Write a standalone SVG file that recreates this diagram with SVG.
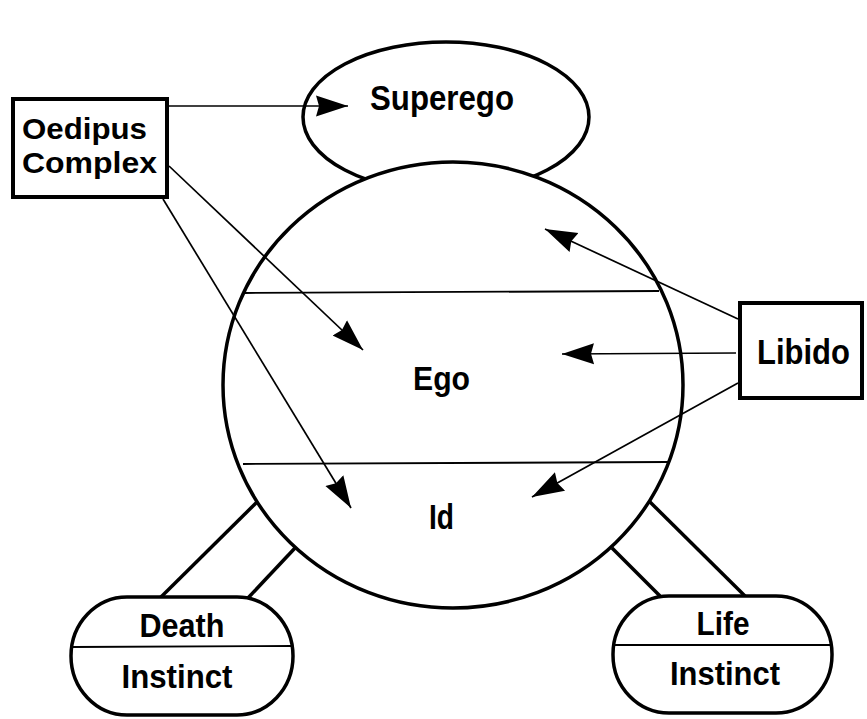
<svg xmlns="http://www.w3.org/2000/svg" width="867" height="719" viewBox="0 0 867 719">
<style>
.shape{fill:#fff;stroke:#000;stroke-width:3.5}
.box{fill:#fff;stroke:#000;stroke-width:4}
.line{stroke:#000;stroke-width:1.8;fill:none}
.leg{stroke:#000;stroke-width:3.5;fill:none}
.conn{stroke:#000;stroke-width:1.7;fill:none;marker-end:url(#ah)}
text{font-family:"Liberation Sans",Arial,Helvetica,sans-serif;font-weight:bold;fill:#000}
</style>
<defs>
<marker id="ah" markerUnits="userSpaceOnUse" markerWidth="34" markerHeight="24" refX="32" refY="12" orient="auto">
<path d="M0,1.5 L32,12 L0,22.5 L3,12 z" fill="#000"/>
</marker>
</defs>
<rect width="867" height="719" fill="#fff"/>
<g id="superego">
<ellipse class="shape" cx="446" cy="117" rx="143" ry="75"/>
<text x="442" y="110" font-size="35" text-anchor="middle" textLength="144" lengthAdjust="spacingAndGlyphs">Superego</text>
</g>
<g id="legs">
<line class="leg" x1="160" y1="598" x2="257" y2="502"/>
<line class="leg" x1="248" y1="598" x2="295" y2="548"/>
<line class="leg" x1="660" y1="596" x2="612" y2="548"/>
<line class="leg" x1="745" y1="596" x2="650" y2="502"/>
</g>
<g id="psyche">
<ellipse class="shape" cx="453" cy="385" rx="230" ry="223"/>
<line class="line" x1="245" y1="293" x2="659" y2="291"/>
<line class="line" x1="243" y1="464" x2="668" y2="462"/>
</g>
<g id="ego">
<text x="413" y="390" font-size="34" textLength="57" lengthAdjust="spacingAndGlyphs">Ego</text>
</g>
<g id="id">
<text x="429" y="529" font-size="35" textLength="25" lengthAdjust="spacingAndGlyphs">Id</text>
</g>
<g id="oedipus">
<rect class="box" x="13" y="99" width="154" height="98"/>
<text x="22" y="139" font-size="29.5" textLength="125" lengthAdjust="spacingAndGlyphs">Oedipus</text>
<text x="22" y="173" font-size="29.5" textLength="135" lengthAdjust="spacingAndGlyphs">Complex</text>
</g>
<g id="libido">
<rect class="box" x="740" y="303" width="122" height="95"/>
<text x="757" y="364" font-size="35" textLength="93" lengthAdjust="spacingAndGlyphs">Libido</text>
</g>
<g id="death">
<rect class="shape" x="71" y="597" width="222" height="118" rx="56" ry="59"/>
<line class="line" x1="72" y1="647" x2="292" y2="646"/>
<text x="182" y="637" font-size="33" text-anchor="middle" textLength="85" lengthAdjust="spacingAndGlyphs">Death</text>
<text x="177" y="688" font-size="34" text-anchor="middle" textLength="111" lengthAdjust="spacingAndGlyphs">Instinct</text>
</g>
<g id="life">
<rect class="shape" x="613" y="596" width="219" height="117" rx="56" ry="58"/>
<line class="line" x1="614" y1="645" x2="831" y2="645"/>
<text x="723" y="635" font-size="34" text-anchor="middle" textLength="53" lengthAdjust="spacingAndGlyphs">Life</text>
<text x="725" y="685" font-size="34" text-anchor="middle" textLength="110" lengthAdjust="spacingAndGlyphs">Instinct</text>
</g>
<g id="connectors">
<line class="conn" x1="169" y1="106" x2="348" y2="106"/>
<line class="conn" x1="169" y1="166" x2="363" y2="350"/>
<line class="conn" x1="163" y1="199" x2="351" y2="508"/>
<line class="conn" x1="738" y1="319" x2="545" y2="229"/>
<line class="conn" x1="736" y1="353" x2="562" y2="354"/>
<line class="conn" x1="738" y1="383" x2="532" y2="497"/>
</g>
</svg>
